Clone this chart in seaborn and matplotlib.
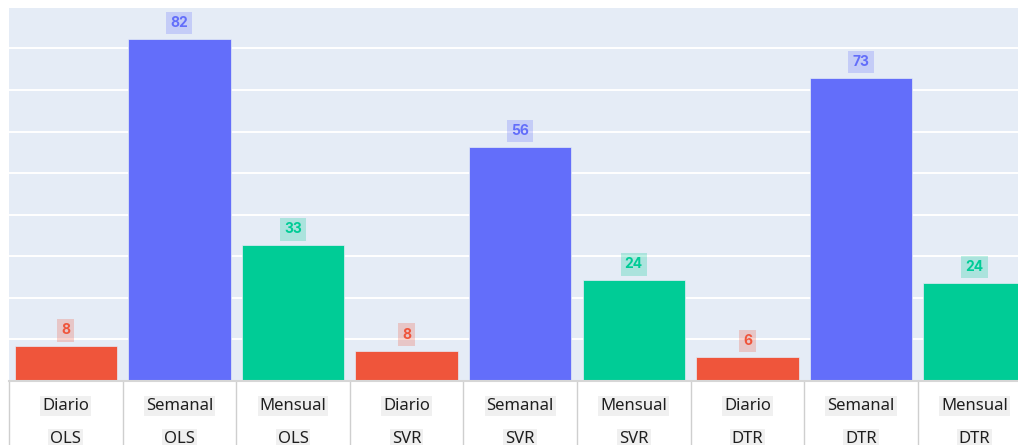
import matplotlib
matplotlib.use("Agg")
import matplotlib.pyplot as plt
import pandas as pd
import seaborn as sns

# datos
periodos = ["Diario", "Semanal", "Mensual"] * 3
modelos = ["OLS"] * 3 + ["SVR"] * 3 + ["DTR"] * 3
valores = [8.3, 82.2, 32.6, 7.3, 56.3, 24.2, 5.8, 72.8, 23.6]
etiquetas = ["8", "82", "33", "8", "56", "24", "6", "73", "24"]
colores = {"Diario": "#EF553B", "Semanal": "#636EFA", "Mensual": "#00CC96"}

df = pd.DataFrame({"periodo": periodos, "modelo": modelos, "valor": valores})
df["clave"] = df["periodo"] + "\n" + df["modelo"]

sns.set_style("white")
plt.rcParams["font.family"] = ["Noto Sans", "DejaVu Sans"]

fig = plt.figure(figsize=(10.18, 4.45), dpi=100, facecolor="white")
# el area de dibujo sigue un poco mas alla del borde derecho, como en el original
ax = fig.add_axes([9 / 1018, 64 / 445, 1022.4 / 1018, 373 / 445])
ax.set_facecolor("#E5ECF6")

sns.barplot(
    data=df,
    x="clave",
    y="valor",
    hue="periodo",
    palette=colores,
    saturation=1,
    dodge=False,
    width=0.9,
    edgecolor="#E5ECF6",
    linewidth=0.5,
    legend=False,
    ax=ax,
)

ax.set_xlim(-0.5, len(df) - 0.5)
ax.set_ylim(0, 89.7)
ax.set_yticks(range(10, 90, 10))
ax.grid(True, axis="y", color="white", linewidth=1.4)
ax.set_axisbelow(True)
ax.tick_params(length=0, labelleft=False, labelbottom=False)
ax.set_xlabel("")
ax.set_ylabel("")
for side in ["top", "left", "right"]:
    ax.spines[side].set_visible(False)
ax.spines["bottom"].set_color("#d6d6d6")
ax.spines["bottom"].set_linewidth(1.5)

# etiquetas encima de cada barra
for p in ax.patches:
    if p.get_height() <= 0:
        continue
    i = int(round(p.get_x() + p.get_width() / 2))
    color = colores[periodos[i]]
    ax.annotate(
        etiquetas[i],
        xy=(i, p.get_height()),
        xytext=(0, 6.5),
        textcoords="offset points",
        ha="center",
        va="bottom",
        fontsize=10,
        fontweight="bold",
        family=["Inter", "DejaVu Sans"],
        color=color,
        bbox=dict(boxstyle="square,pad=0.3", fc=color, ec="none", alpha=0.25),
    )

# eje multicategoria: periodo arriba, modelo abajo
trans = ax.get_xaxis_transform()
ax.vlines(
    [i - 0.5 for i in range(len(df) + 1)],
    -0.2,
    0,
    transform=trans,
    colors="#cfcfcf",
    linewidth=1,
    clip_on=False,
)
box = dict(boxstyle="square,pad=0.12", fc="#f0f0f0", ec="none")
for i, (per, mod) in enumerate(zip(periodos, modelos)):
    ax.text(i, -0.067, per, transform=trans, ha="center", va="center",
            fontsize=12, color="#1f1f1f", bbox=box, clip_on=False)
    ax.text(i, -0.155, mod, transform=trans, ha="center", va="center",
            fontsize=12, color="#1f1f1f", bbox=box, clip_on=False)

fig.savefig("out.png", dpi=100, facecolor="white")
plt.close(fig)
